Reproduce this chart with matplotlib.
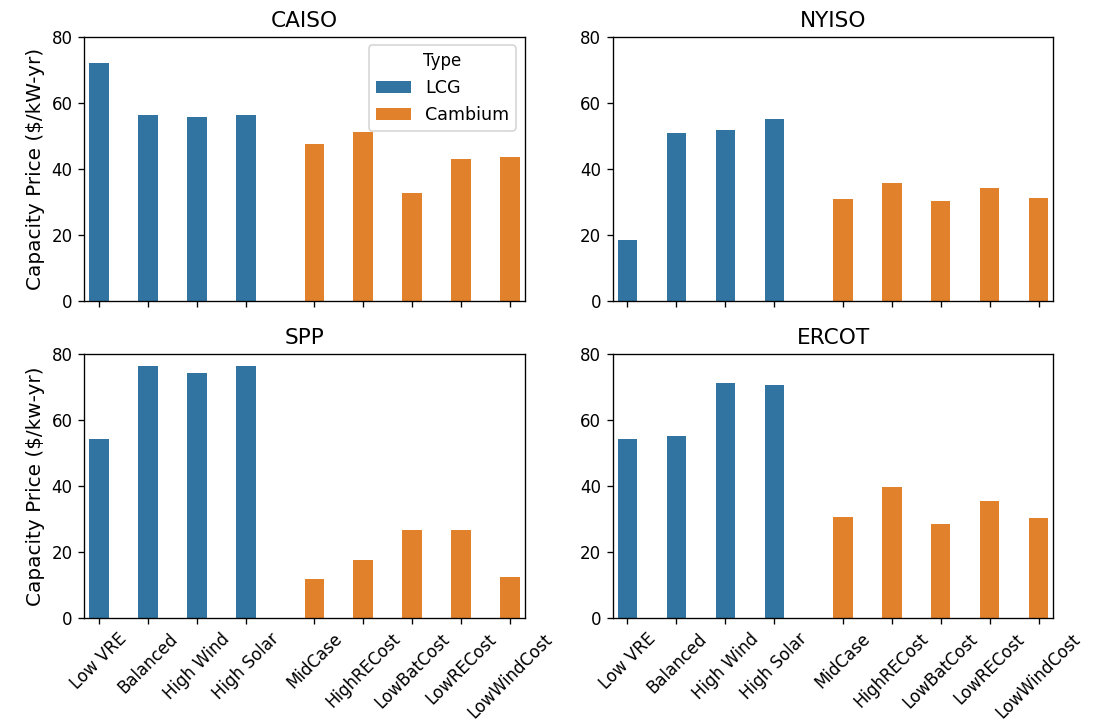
import numpy as np
import matplotlib
matplotlib.use("Agg")
import matplotlib.pyplot as plt

# scenario names
lcg_cases = ['Low VRE', 'Balanced', 'High Wind', 'High Solar']
cambium_cases = ['MidCase', 'HighRECost', 'LowBatCost', 'LowRECost', 'LowWindCost']

# capacity price per region ($/kW-yr)
caiso_lcg = [72.1, 56.2, 55.7, 56.2]
caiso_cambium = [47.5, 51.2, 32.8, 42.9, 43.7]
nyiso_lcg = [18.4, 51.0, 51.7, 55.1]
nyiso_cambium = [30.9, 35.6, 30.3, 34.1, 31.1]
spp_lcg = [54.3, 76.2, 74.2, 76.2]
spp_cambium = [11.8, 17.7, 26.6, 26.6, 12.4]
ercot_lcg = [54.1, 55.1, 71.2, 70.5]
ercot_cambium = [30.5, 39.8, 28.5, 35.5, 30.3]

regions = ['CAISO', 'NYISO', 'SPP', 'ERCOT']
lcg_vals = [caiso_lcg, nyiso_lcg, spp_lcg, ercot_lcg]
cambium_vals = [caiso_cambium, nyiso_cambium, spp_cambium, ercot_cambium]
ylabels = ['Capacity Price ($/kW-yr)', '', 'Capacity Price ($/kw-yr)', '']

blue = '#3274a1'
orange = '#e1812c'

fig, axes = plt.subplots(2, 2, sharex=True, figsize=(1111/120, 725/120), dpi=120)
fig.subplots_adjust(left=0.0759, right=0.948, top=0.9494, bottom=0.1472,
                    wspace=0.2, hspace=0.199)

# hue dodge like seaborn: LCG on the left half, Cambium on the right half
x_lcg = np.arange(len(lcg_cases)) - 0.2
x_cam = np.arange(len(lcg_cases), len(lcg_cases) + len(cambium_cases)) + 0.2

for ax, name, lv, cv, yl in zip(axes.flat, regions, lcg_vals, cambium_vals, ylabels):
    ax.bar(x_lcg, lv, width=0.4, color=blue, label='LCG')
    ax.bar(x_cam, cv, width=0.4, color=orange, label='Cambium')
    ax.set_title(name, fontsize=13)
    ax.set_ylim(0, 80)
    ax.set_yticks([0, 20, 40, 60, 80])
    ax.set_xlim(-0.5, 8.5)
    ax.set_ylabel(yl, fontsize=12)

for ax in axes[1]:
    ax.set_xticks(list(x_lcg) + list(x_cam))
    ax.set_xticklabels(lcg_cases + cambium_cases, rotation=45)

axes[0, 0].legend(title='Type', loc='upper right', fontsize=10.5)

fig.savefig('out.png', dpi=120)
